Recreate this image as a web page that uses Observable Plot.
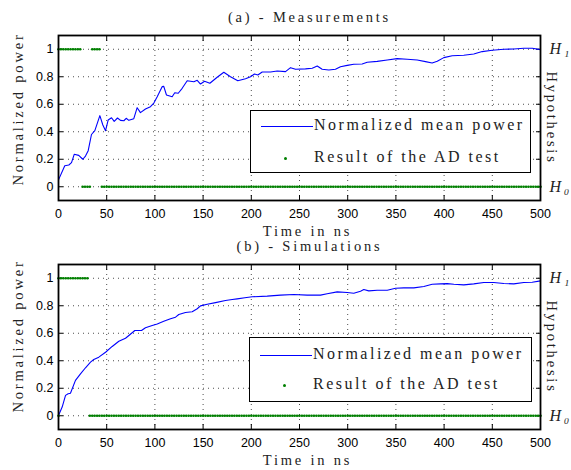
<!DOCTYPE html>
<html><head><meta charset="utf-8">
<script src="https://cdn.jsdelivr.net/npm/d3@7"></script>
<script src="https://cdn.jsdelivr.net/npm/@observablehq/plot@0.6"></script>
<style>
body{margin:0;background:#fff;}
#wrap{position:relative;width:571px;height:470px;overflow:hidden;background:#fff;}
.panel{position:absolute;left:0;}
.panel svg g[aria-label="text"] text{letter-spacing:2.8px;}
.legend{position:absolute;background:#fff;border:1.6px solid #000;box-sizing:border-box;font-family:"Liberation Serif","DejaVu Serif",serif;font-size:16px;letter-spacing:2.5px;color:#222;}
.legend .row{position:absolute;left:63px;height:20px;line-height:20px;white-space:nowrap;}
.legend .ln{position:absolute;left:10px;width:52px;height:0;border-top:1.2px solid #0000ff;}
.legend .dt{position:absolute;left:33px;width:3px;height:3px;border-radius:50%;background:#008000;}
</style></head>
<body><div id="wrap"></div>
<script>
// ---- data ----
const xTicks = [0, 50, 100, 150, 200, 250, 300, 350, 400, 450, 500];
const yTicks = [0, 0.2, 0.4, 0.6, 0.8, 1];
const hypLabels = ["H\u2081", "H\u2080"];
const hypValues = [1, 0];

// (a) measurements: [time ns, normalized mean power]
const measuredPower = [[0,0.05],[6.5,0.153],[10.7,0.158],[13.5,0.175],[16.3,0.236],[21,0.228],[25.2,0.2],[28,0.223],[30.8,0.262],[34.2,0.38],[37.7,0.408],[42.9,0.517],[46,0.449],[48.8,0.408],[51.5,0.485],[55,0.502],[57.8,0.476],[61.2,0.5],[64.3,0.483],[67.8,0.48],[70.2,0.498],[73,0.483],[78.1,0.495],[81.6,0.575],[85,0.539],[90.2,0.565],[95.4,0.582],[98.9,0.609],[102.4,0.655],[107.5,0.728],[109.2,0.73],[112,0.667],[117.9,0.655],[120.6,0.684],[124.2,0.68],[128.3,0.716],[133.5,0.771],[140.4,0.764],[143.9,0.774],[147.3,0.747],[151.5,0.767],[157,0.753],[164.6,0.796],[171.5,0.833],[178.4,0.8],[186,0.771],[194,0.786],[199.2,0.8],[203.3,0.82],[206.8,0.813],[211.3,0.835],[219.9,0.835],[226.9,0.842],[235.5,0.837],[240.7,0.866],[245.9,0.854],[256.2,0.857],[263.2,0.862],[268.4,0.878],[273.5,0.854],[280.4,0.849],[287.3,0.854],[292.5,0.873],[299.5,0.883],[306.3,0.891],[315,0.893],[320.2,0.905],[330.6,0.912],[341,0.922],[351.3,0.932],[361.7,0.927],[372.1,0.922],[380.7,0.91],[387.6,0.9],[392.9,0.912],[399.7,0.939],[408.4,0.953],[420.4,0.956],[430.8,0.966],[439.5,0.983],[449.9,0.993],[462,1.0],[472.3,1.002],[482.7,1.007],[491.4,1.007],[500,0.997]];

// (b) simulations: [time ns, normalized mean power]
const simulatedPower = [[0,0.002],[3.8,0.063],[7.3,0.148],[10,0.16],[12.4,0.164],[17.6,0.257],[22.8,0.305],[28,0.349],[33.2,0.39],[36.6,0.409],[41.8,0.426],[48.8,0.462],[55.7,0.504],[62.6,0.542],[69.5,0.564],[73,0.584],[79.2,0.62],[86.1,0.62],[90.2,0.64],[97.2,0.656],[102.4,0.668],[109.2,0.687],[116.2,0.705],[121.4,0.717],[124.8,0.736],[131.7,0.751],[138.7,0.756],[143.9,0.778],[147.3,0.799],[154.3,0.811],[162.9,0.823],[173.2,0.838],[180.2,0.845],[185.4,0.85],[193.3,0.858],[200.9,0.865],[216.5,0.87],[230.3,0.877],[244.1,0.882],[258,0.877],[271.8,0.877],[278.7,0.887],[289.1,0.901],[299.5,0.896],[306.3,0.891],[313.3,0.906],[316.7,0.918],[321.9,0.908],[330.6,0.913],[341,0.913],[349.6,0.927],[358.2,0.93],[368.6,0.93],[379,0.94],[387.6,0.956],[396.3,0.959],[403.2,0.961],[410.1,0.956],[420.4,0.952],[430.8,0.959],[441.2,0.969],[451.5,0.969],[462,0.962],[472.3,0.959],[482.7,0.969],[491.4,0.971],[500,0.981]];

// AD test result (hypothesis per sample), run-length coded: [value, number of samples]
const adSampleStep = 2.5;
const measuredADRuns = [[1,10],[0,4],[1,4],[0,183]];
const simulatedADRuns = [[1,13],[0,188]];
const simulatedADExtra = [[0,0]];

function expandRuns(runs, extra) {
  const out = [];
  let i = 0;
  for (const [h, n] of runs) for (let k = 0; k < n; k++, i++) out.push({t: i * adSampleStep, h});
  for (const [t, h] of (extra || [])) out.push({t, h});
  return out;
}

const fmtY = d => String(+d.toFixed(1));
const gridStyle = {stroke: "#000", strokeOpacity: 0.7, strokeDasharray: "1,4", strokeWidth: 1};
const serif = '"Liberation Serif", "DejaVu Serif", serif';

function makePanel({line, dots, title, height, mTop, mBottom, ylabDy}) {
  return Plot.plot({
    width: 571, height,
    marginLeft: 58, marginRight: 31, marginTop: mTop, marginBottom: mBottom,
    style: {fontFamily: '"Liberation Sans", Arial, sans-serif', fontSize: "12.5px", color: "#000", background: "transparent", overflow: "visible"},
    x: {domain: [0, 500], label: null},
    y: {domain: [-0.1, 1.1], label: null},
    marks: [
      Plot.gridX(xTicks, gridStyle),
      Plot.gridY(yTicks, gridStyle),
      Plot.axisX(xTicks, {anchor: "bottom", tickSize: 0, tickPadding: 9, label: null}),
      Plot.axisY(yTicks, {anchor: "left", tickSize: 0, tickPadding: 5, tickFormat: fmtY, label: null}),
      Plot.axisX(xTicks, {anchor: "bottom", tickSize: -5, tickFormat: () => "", label: null}),
      Plot.axisX(xTicks, {anchor: "top", tickSize: -5, tickFormat: () => "", label: null}),
      Plot.axisY(yTicks, {anchor: "left", tickSize: -5, tickFormat: () => "", label: null}),
      Plot.axisY(yTicks, {anchor: "right", tickSize: -5, tickFormat: () => "", label: null}),
      Plot.line(line, {x: d => d[0], y: d => d[1], stroke: "#0000ff", strokeWidth: 1.1}),
      Plot.dot(dots, {x: "t", y: "h", r: 1.35, fill: "#008000", stroke: null}),
      Plot.frame({stroke: "#000", strokeWidth: 1.8}),
      Plot.text([title], {frameAnchor: "top", lineAnchor: "middle", dy: -18, dx: 10, fontFamily: serif, fontSize: 14.5, fill: "#222"}),
      Plot.text(["Time in ns"], {frameAnchor: "bottom", lineAnchor: "middle", dy: 31, dx: 8, fontFamily: serif, fontSize: 14.5, fill: "#222"}),
      Plot.text(["Normalized power"], {frameAnchor: "left", textAnchor: "middle", lineAnchor: "middle", dx: -40, dy: ylabDy, rotate: -90, fontFamily: serif, fontSize: 14.5, fill: "#222"}),
      Plot.text(["Hypothesis"], {frameAnchor: "right", textAnchor: "middle", lineAnchor: "middle", dx: 11, rotate: 90, fontFamily: serif, fontSize: 14.5, fill: "#222"}),
      Plot.text(hypValues, {y: d => d, text: (d, i) => hypLabels[i], frameAnchor: "right", lineAnchor: "middle", dx: 9, textAnchor: "start", fontFamily: serif, fontStyle: "italic", fontSize: 16, fill: "#222"})
    ]
  });
}

const wrap = document.getElementById("wrap");
function addPanel(svg, top) {
  const d = document.createElement("div");
  d.className = "panel"; d.style.top = top + "px";
  d.appendChild(svg); wrap.appendChild(d);
}
function addLegend(left, top, w, h, r1, r2) {
  const L = document.createElement("div");
  L.className = "legend";
  Object.assign(L.style, {left: left + "px", top: top + "px", width: w + "px", height: h + "px"});
  L.innerHTML = `<div class="ln" style="top:${r1}px"></div><div class="row" style="top:${r1 - 11}px">Normalized mean power</div>` +
    `<div class="dt" style="top:${r2 - 1.5}px"></div><div class="row" style="top:${r2 - 11}px">Result of the AD test</div>`;
  wrap.appendChild(L);
}

addPanel(makePanel({line: measuredPower, dots: expandRuns(measuredADRuns), title: "(a) - Measurements", height: 235, mTop: 35, mBottom: 35, ylabDy: -9}), 0);
addPanel(makePanel({line: simulatedPower, dots: expandRuns(simulatedADRuns, simulatedADExtra), title: "(b) - Simulations", height: 240, mTop: 34, mBottom: 41, ylabDy: -11}), 230);
addLegend(250, 110, 281, 63, 15, 47);
addLegend(249, 337, 283, 65, 17, 47);
</script>
</body></html>
